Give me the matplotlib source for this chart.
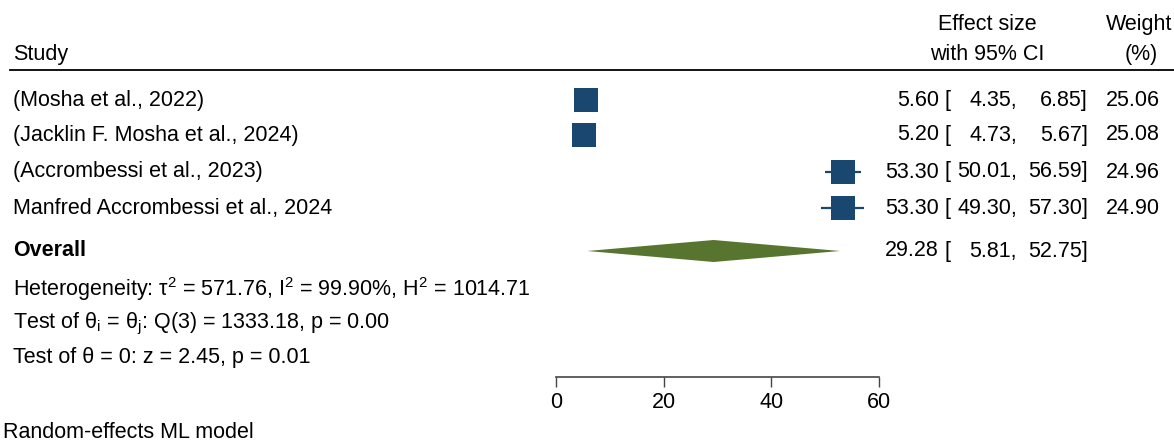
#!/usr/bin/env python3
"""
Forest plot (random-effects ML meta-analysis), Stata-style layout.
"""
import matplotlib
matplotlib.use("Agg")
import matplotlib.pyplot as plt
from matplotlib.patches import Polygon

plt.rcParams["font.family"] = ["Liberation Sans", "DejaVu Sans"]

# ── data ─────────────────────────────────────────────────────────────────────
studies = ["(Mosha et al., 2022)",
           "(Jacklin F. Mosha et al., 2024)",
           "(Accrombessi et al., 2023)",
           "Manfred Accrombessi et al., 2024"]
effect  = [5.60, 5.20, 53.30, 53.30]
ci_low  = [4.35, 4.73, 50.01, 49.30]
ci_high = [6.85, 5.67, 56.59, 57.30]
weight  = [25.06, 25.08, 24.96, 24.90]

overall_es, overall_lo, overall_hi = 29.28, 5.81, 52.75

xticks = [0, 20, 40, 60]

het_text  = (r"Heterogeneity: $\mathregular{\tau^2}$ = 571.76, "
             r"$\mathregular{I^2}$ = 99.90%, $\mathregular{H^2}$ = 1014.71")
q_text    = r"Test of $\mathregular{\theta_i}$ = $\mathregular{\theta_j}$: Q(3) = 1333.18, p = 0.00"
z_text    = "Test of θ = 0: z = 2.45, p = 0.01"
model_txt = "Random-effects ML model"

# ── layout (pixels, y from top) ──────────────────────────────────────────────
W, H = 1174, 443
row_y = [100, 135, 172, 208]
overall_y = 251
FS = 15.5
NAVY = "#1a476f"
GREEN = "#587530"

fig = plt.figure(figsize=(W / 100, H / 100), dpi=100)

# overlay axes in pixel coords for text/rules
tx = fig.add_axes([0, 0, 1, 1])
tx.set_xlim(0, W)
tx.set_ylim(H, 0)
tx.axis("off")

# plot panel: x in data units
ax = fig.add_axes([556 / W, 0, 323 / W, 1])
ax.set_xlim(0, 60)
ax.set_ylim(H, 0)
ax.patch.set_alpha(0)
for s in ["top", "left", "right"]:
    ax.spines[s].set_visible(False)
ax.spines["bottom"].set_position(("data", 377))
ax.spines["bottom"].set_color("#444444")
ax.spines["bottom"].set_linewidth(1.2)
ax.set_yticks([])
ax.set_xticks(xticks)
ax.set_xticklabels([str(t) for t in xticks], fontsize=FS)
ax.tick_params(axis="x", direction="out", length=7, width=1.0,
               color="#444444", pad=4)

# study markers
sq = 24  # square side in px
for y, es, lo, hi in zip(row_y, effect, ci_low, ci_high):
    ax.plot([lo, hi], [y, y], color=NAVY, lw=1.6, solid_capstyle="butt")
    ax.scatter([es], [y], marker="s", s=(sq * 0.72) ** 2, color=NAVY,
               edgecolors="none", zorder=3)

# overall diamond
dia = Polygon([[overall_lo, overall_y], [overall_es, overall_y - 11],
               [overall_hi, overall_y], [overall_es, overall_y + 11]],
              closed=True, facecolor=GREEN, edgecolor="none")
ax.add_patch(dia)

# ── text ─────────────────────────────────────────────────────────────────────
kw = dict(fontsize=FS, va="center")
tx.text(13, 54, "Study", ha="left", **kw)
tx.text(987, 24, "Effect size", ha="center", **kw)
tx.text(987, 54, "with 95% CI", ha="center", **kw)
tx.text(1172, 24, "Weight", ha="right", **kw)
tx.text(1141, 54, "(%)", ha="center", **kw)
tx.plot([10, W], [70, 70], color="black", lw=1.3)


def ci_row(y, es, lo, hi):
    tx.text(939, y, f"{es:.2f}", ha="right", **kw)
    tx.text(945, y, "[", ha="left", **kw)
    tx.text(1017, y, f"{lo:.2f},", ha="right", **kw)
    tx.text(1088, y, f"{hi:.2f}]", ha="right", **kw)


for y, name, es, lo, hi, w in zip(row_y, studies, effect, ci_low, ci_high, weight):
    tx.text(13, y, name, ha="left", **kw)
    ci_row(y, es, lo, hi)
    tx.text(1160, y, f"{w:.2f}", ha="right", **kw)

tx.text(13, overall_y, "Overall", ha="left", fontweight="bold", **kw)
ci_row(overall_y, overall_es, overall_lo, overall_hi)

tx.text(13, 289, het_text, ha="left", **kw)
tx.text(13, 324, q_text, ha="left", **kw)
tx.text(13, 358, z_text, ha="left", **kw)
tx.text(3, 432, model_txt, ha="left", **kw)

fig.savefig("out.png", dpi=100)
